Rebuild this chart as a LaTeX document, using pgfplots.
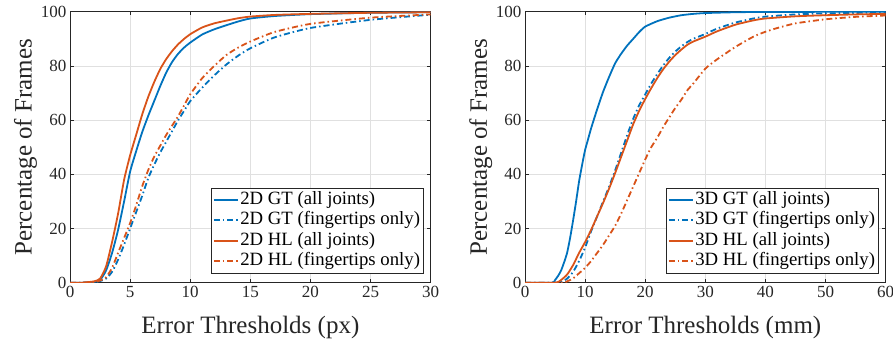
\documentclass[border=0pt]{standalone}
\usepackage{pgfplots}
\pgfplotsset{compat=1.18}
\usepackage{fontspec}
\setmainfont{Liberation Serif}
\definecolor{mblue}{rgb}{0,0.447,0.741}
\definecolor{morange}{rgb}{0.85,0.325,0.098}
\definecolor{axgray}{rgb}{0.15,0.15,0.15}
\pgfplotsset{
  cdfstyle/.style={
    scale only axis, width=360.7bp, height=271bp,
    ymin=0, ymax=100, ytick={0,20,...,100},
    grid=major, major grid style={color=black!12, line width=0.5bp},
    axis line style={color=axgray, line width=0.6bp},
    tick style={color=axgray, line width=0.6bp},
    tick align=inside, major tick length=3.5bp,
    xtick pos=both, ytick pos=both,
    /pgf/number format/assume math mode=true,
    ticklabel style={font=\fontsize{17bp}{20bp}\selectfont, color=axgray},
    label style={font=\fontsize{25bp}{30bp}\selectfont, color=axgray},
    xlabel style={yshift=-12bp},
    ylabel style={yshift=-3bp},
    ylabel={Percentage of Frames},
    legend style={at={(0.9795,0.0347)}, anchor=south east,
      draw=axgray, line width=0.6bp, fill=white,
      inner xsep=1.5bp, inner ysep=1.5bp,
      font=\fontsize{18.75bp}{21bp}\selectfont,
      nodes={inner sep=1.5bp, text height=13.5bp, text depth=4bp},
      row sep=0bp},
    legend cell align=left,
    legend image code/.code={\draw[##1] (0bp,0bp) -- (24bp,0bp);},
    every axis plot/.append style={line width=1.8bp, line join=round, smooth, tension=0.35},
  },
  dd/.style={dash pattern=on 6bp off 3bp on 1.5bp off 3bp},
}
\begin{document}
\begin{tikzpicture}[x=1bp,y=1bp]
\useasboundingbox (0,0) rectangle (893,342);
% ---------------- left: 2D ----------------
\begin{axis}[cdfstyle, at={(70bp,59.3bp)}, anchor=south west,
  xmin=0, xmax=30, xtick={0,5,...,30},
  xlabel={Error Thresholds (px)}]
\addplot[mblue, solid] table {
x y
0 0
1 0
2 0.3
2.5 1
3 4.5
3.5 11
4 19.5
4.5 30
5 41
5.5 48.5
6 55.5
6.5 61.5
7 67
7.5 72.5
8 77.5
8.5 81.5
9 84.5
9.5 86.8
10 88.6
11 91.6
12 93.5
13 95
14 96.4
15 97.5
17 98.4
20 99.1
25 99.6
30 99.8
};
\addlegendentry{2D GT (all joints)}
\addplot[mblue, dd] table {
x y
0 0
1 0
2 0.2
2.5 0.6
3 1.5
3.5 4
4 8.5
4.5 14
5 20
5.5 26
6 32
6.5 38.5
7 43.5
7.5 48
8 52
8.5 56
9 60
9.5 63.5
10 67
11 72
12 76.5
13 80.5
14 83.8
15 86.5
17 90.5
20 94
25 97
30 98.9
};
\addlegendentry{2D GT (fingertips only)}
\addplot[morange, solid] table {
x y
0 0
1 0
2 0.5
2.5 1.5
3 6
3.5 15
4 25.5
4.5 38
5 47
5.5 54.5
6 62
6.5 68.5
7 74
7.5 78.8
8 82.5
8.5 85.5
9 88
9.5 90
10 91.7
11 94.2
12 95.7
13 96.7
14 97.6
15 98.2
17 98.8
20 99.2
25 99.6
30 99.8
};
\addlegendentry{2D HL (all joints)}
\addplot[morange, dd] table {
x y
0 0
1 0
2 0.3
2.5 0.8
3 2
3.5 5.5
4 11
4.5 16.5
5 22
5.5 28.5
6 35.5
6.5 41.5
7 46.5
7.5 50.5
8 54.5
8.5 58
9 61.5
9.5 65.5
10 69.5
11 75.5
12 80
13 84
14 86.8
15 89
17 92.5
20 95.5
25 97.8
30 99
};
\addlegendentry{2D HL (fingertips only)}
\end{axis}
% ---------------- right: 3D ----------------
\begin{axis}[cdfstyle, at={(525bp,59.3bp)}, anchor=south west,
  xmin=0, xmax=60, xtick={0,10,...,60},
  xlabel={Error Thresholds (mm)}]
\addplot[mblue, solid] table {
x y
0 0
4.5 0
5 1
5.5 2.5
6 4.5
6.5 7.5
7 11
7.5 16.5
8 23
8.5 30
9 37.5
9.5 43.5
10 49
10.5 53
11 57
12 64
13 70.5
14 76
15 81
16 84.5
17 87.5
18 90
19 92.5
20 94.5
22 96.5
24 97.8
26 98.7
28 99.2
30 99.5
35 99.8
40 99.9
60 100
};
\addlegendentry{3D GT (all joints)}
\addplot[mblue, dd] table {
x y
0 0
5.5 0
6 0.3
7 1.5
8 4
9 8
10 13
11 19
12 24.5
13 30
14 35.5
15 41.5
16 48
17 54.5
18 60.5
19 65.5
20 69.5
21 73.5
22 77
23 80.2
24 83
25 85.3
26 87.2
27 88.8
28 90
30 91.8
32 93.8
35 96
38 97.5
40 98.2
45 99
50 99.4
60 99.7
};
\addlegendentry{3D GT (fingertips only)}
\addplot[morange, solid] table {
x y
0 0
5 0
6 1
7 3
8 6.5
9 11
10 15
11 19.5
12 24.5
13 29.5
14 34.8
15 40.5
16 46.5
17 52.5
18 58.5
19 63.5
20 67.8
21 71.8
22 75.5
23 78.8
24 81.6
25 84
26 86
27 87.8
28 89
30 90.8
32 92.8
35 95.2
38 96.8
40 97.5
45 98.3
50 98.7
55 99
60 99.2
};
\addlegendentry{3D HL (all joints)}
\addplot[morange, dd] table {
x y
0 0
6 0
7 0.5
8 1.6
9 3.5
10 5.5
11 8
12 11
13 14
14 17.5
15 21
16 25.5
17 30.5
18 35.5
19 40.5
20 45.5
21 50
22 53.5
23 57.5
24 61
25 64.5
26 67.5
27 71
28 73.5
30 79
32 82.5
35 87
38 90.8
40 92.6
42 94
45 95.7
50 97.2
55 98.1
60 98.6
};
\addlegendentry{3D HL (fingertips only)}
\end{axis}
\end{tikzpicture}
\end{document}
